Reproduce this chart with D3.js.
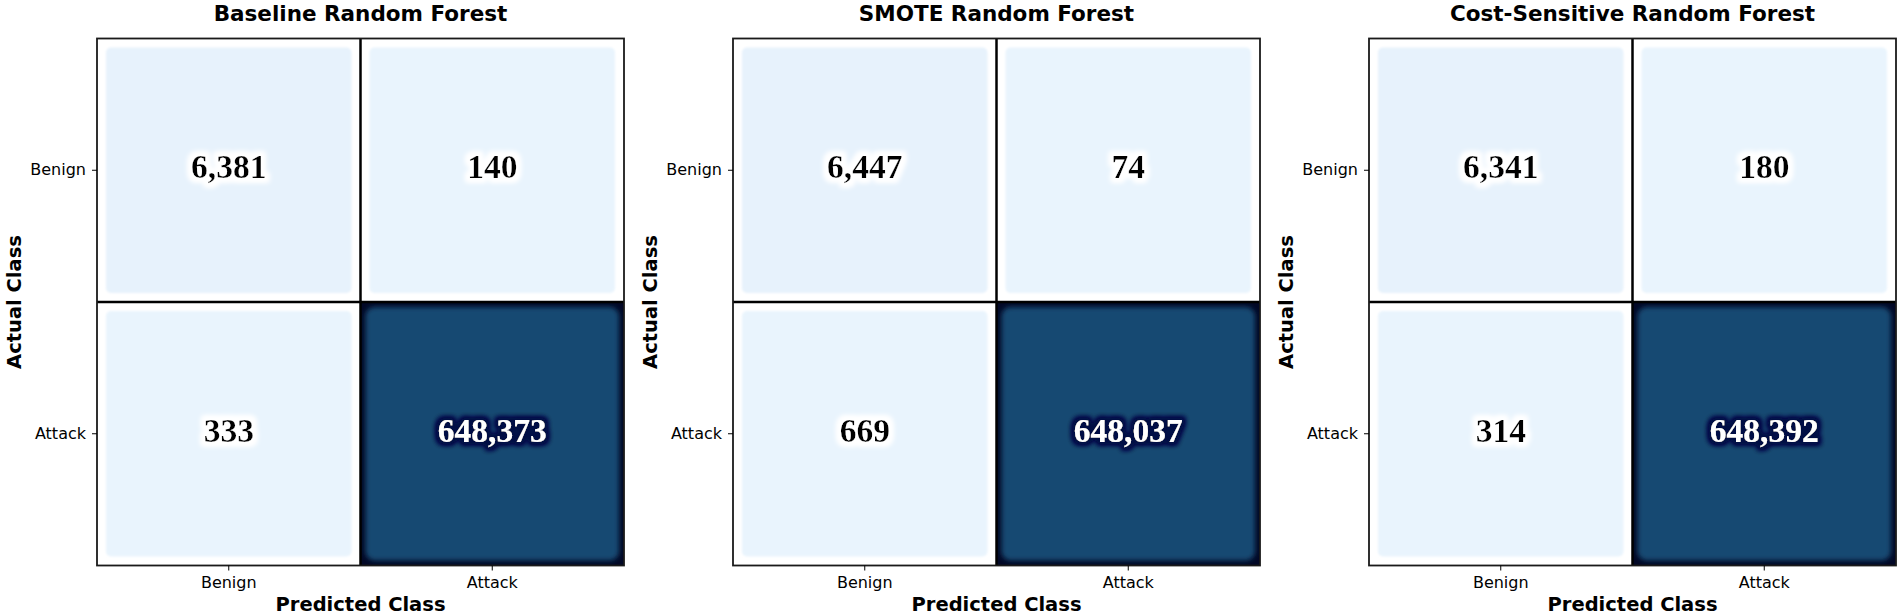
<!DOCTYPE html>
<html>
<head>
<meta charset="utf-8">
<script src="https://cdn.jsdelivr.net/npm/d3@7"></script>
<style>
  body { margin: 0; background: #fff; }
</style>
</head>
<body>
<div id="chart"></div>
<script>
// confusion matrix counts
var modelTitles = ["Baseline Random Forest", "SMOTE Random Forest", "Cost-Sensitive Random Forest"];
var classes = ["Benign", "Attack"];
// row "Benign" (actual) -> [predicted Benign, predicted Attack]
var benignRow = [[6381, 140], [6447, 74], [6341, 180]];
// row "Attack" (actual) -> [predicted Benign, predicted Attack]
var attackRow = [[333, 648373], [669, 648037], [314, 648392]];

var width = 1900,
  height = 615;
var size = 527, // each heatmap is square
  panelTop = 38.5,
  firstLeft = 97,
  panelStep = 636;

var svg = d3
  .select("#chart")
  .append("svg")
  .attr("width", width)
  .attr("height", height);

var defs = svg.append("defs");

//soft halo behind the numbers
function addHalo(id, colour, radius, blur) {
  var f = defs
    .append("filter")
    .attr("id", id)
    .attr("x", "-30%")
    .attr("y", "-70%")
    .attr("width", "160%")
    .attr("height", "240%");
  f.append("feMorphology")
    .attr("in", "SourceAlpha")
    .attr("operator", "dilate")
    .attr("radius", radius)
    .attr("result", "thick");
  f.append("feGaussianBlur")
    .attr("in", "thick")
    .attr("stdDeviation", blur)
    .attr("result", "blur");
  f.append("feFlood").attr("flood-color", colour);
  f.append("feComposite")
    .attr("in2", "blur")
    .attr("operator", "in")
    .attr("result", "glow");
  var merge = f.append("feMerge");
  merge.append("feMergeNode").attr("in", "glow");
  merge.append("feMergeNode").attr("in", "glow");
  merge.append("feMergeNode").attr("in", "SourceGraphic");
}
addHalo("haloLight", "#ffffff", 3.5, 2.6);
addHalo("haloDark", "#000a45", 3.2, 2.8);

defs
  .append("filter")
  .attr("id", "softLight")
  .append("feGaussianBlur")
  .attr("stdDeviation", 1.2);
defs
  .append("filter")
  .attr("id", "softDark")
  .append("feGaussianBlur")
  .attr("stdDeviation", 2.8);

var allValues = d3.merge(benignRow.concat(attackRow));
var maxValue = d3.max(allValues);

var color = d3
  .scaleLinear()
  .domain([0, maxValue])
  .range(["#e9f4fd", "#174a72"]);

var xScale = d3
  .scaleBand()
  .domain(classes)
  .range([0, size]);
var yScale = d3
  .scaleBand()
  .domain(classes)
  .range([0, size]);

var fmt = d3.format(",");

modelTitles.forEach(function(title, m) {
  var g = svg
    .append("g")
    .attr("transform", "translate(" + (firstLeft + m * panelStep) + "," + panelTop + ")");

  var cells = [];
  classes.forEach(function(actual, r) {
    var row = r === 0 ? benignRow : attackRow;
    classes.forEach(function(pred, c) {
      cells.push({ actual: actual, pred: pred, value: row[m][c], id: "c" + m + r + c });
    });
  });

  var isDark = function(d) {
    return d.value > maxValue / 2;
  };

  //clip each cell so the blurred edge stays inside it
  cells.forEach(function(d) {
    defs
      .append("clipPath")
      .attr("id", d.id)
      .append("rect")
      .attr("x", xScale(d.pred))
      .attr("y", yScale(d.actual))
      .attr("width", xScale.bandwidth())
      .attr("height", yScale.bandwidth());
  });

  var cell = g
    .selectAll(".cell")
    .data(cells)
    .enter()
    .append("g")
    .attr("class", "cell")
    .attr("clip-path", function(d) {
      return "url(#" + d.id + ")";
    });

  cell
    .append("rect")
    .attr("x", function(d) {
      return xScale(d.pred);
    })
    .attr("y", function(d) {
      return yScale(d.actual);
    })
    .attr("width", xScale.bandwidth())
    .attr("height", yScale.bandwidth())
    .attr("fill", function(d) {
      return isDark(d) ? "#020826" : "#ffffff";
    });

  cell
    .append("rect")
    .attr("x", function(d) {
      return xScale(d.pred) + (isDark(d) ? 5 : 9);
    })
    .attr("y", function(d) {
      return yScale(d.actual) + (isDark(d) ? 5 : 9);
    })
    .attr("width", function(d) {
      return xScale.bandwidth() - (isDark(d) ? 10 : 18);
    })
    .attr("height", function(d) {
      return yScale.bandwidth() - (isDark(d) ? 10 : 18);
    })
    .attr("rx", function(d) {
      return isDark(d) ? 9 : 5;
    })
    .attr("fill", function(d) {
      return color(d.value);
    })
    .attr("filter", function(d) {
      return isDark(d) ? "url(#softDark)" : "url(#softLight)";
    });

  //cell values
  g.selectAll(".val")
    .data(cells)
    .enter()
    .append("text")
    .attr("class", "val")
    .attr("x", function(d) {
      return xScale(d.pred) + xScale.bandwidth() / 2;
    })
    .attr("y", function(d) {
      return yScale(d.actual) + yScale.bandwidth() / 2 + 8;
    })
    .attr("text-anchor", "middle")
    .style("font-family", "'Liberation Serif', 'Times New Roman', serif")
    .style("font-weight", "bold")
    .style("font-size", "33.5px")
    .attr("fill", function(d) {
      return isDark(d) ? "#ffffff" : "#000000";
    })
    .attr("filter", function(d) {
      return isDark(d) ? "url(#haloDark)" : "url(#haloLight)";
    })
    .text(function(d) {
      return fmt(d.value);
    });

  //grid lines between the cells
  g.append("line")
    .attr("x1", xScale(classes[1]))
    .attr("x2", xScale(classes[1]))
    .attr("y1", 0)
    .attr("y2", size)
    .attr("stroke", "#000")
    .attr("stroke-width", 2.5);
  g.append("line")
    .attr("x1", 0)
    .attr("x2", size)
    .attr("y1", yScale(classes[1]))
    .attr("y2", yScale(classes[1]))
    .attr("stroke", "#000")
    .attr("stroke-width", 2.5);

  g.append("rect")
    .attr("width", size)
    .attr("height", size)
    .attr("fill", "none")
    .attr("stroke", "#1a1a1a")
    .attr("stroke-width", 1.8);

  //axes
  var xAxisG = g
    .append("g")
    .attr("transform", "translate(0," + size + ")")
    .call(d3.axisBottom(xScale).tickSize(5).tickPadding(6));
  var yAxisG = g.append("g").call(d3.axisLeft(yScale).tickSize(5).tickPadding(6));

  [xAxisG, yAxisG].forEach(function(ax) {
    ax.select(".domain").remove();
    ax.attr("font-family", null).attr("font-size", null);
    ax.selectAll("line").attr("stroke", "#000").attr("stroke-width", 1);
    ax.selectAll("text")
      .style("font-family", "'DejaVu Sans', sans-serif")
      .style("font-size", "16px")
      .attr("fill", "#000");
  });

  g.append("text")
    .attr("x", size / 2)
    .attr("y", -17.8)
    .attr("text-anchor", "middle")
    .style("font-family", "'DejaVu Sans', sans-serif")
    .style("font-weight", "bold")
    .style("font-size", "21.5px")
    .text(title);

  g.append("text")
    .attr("x", size / 2)
    .attr("y", size + 45)
    .attr("text-anchor", "middle")
    .style("font-family", "'DejaVu Sans', sans-serif")
    .style("font-weight", "bold")
    .style("font-size", "19.5px")
    .text("Predicted Class");

  g.append("text")
    .attr("transform", "translate(-76.3," + size / 2 + ") rotate(-90)")
    .attr("text-anchor", "middle")
    .style("font-family", "'DejaVu Sans', sans-serif")
    .style("font-weight", "bold")
    .style("font-size", "19.5px")
    .text("Actual Class");
});
</script>
</body>
</html>
